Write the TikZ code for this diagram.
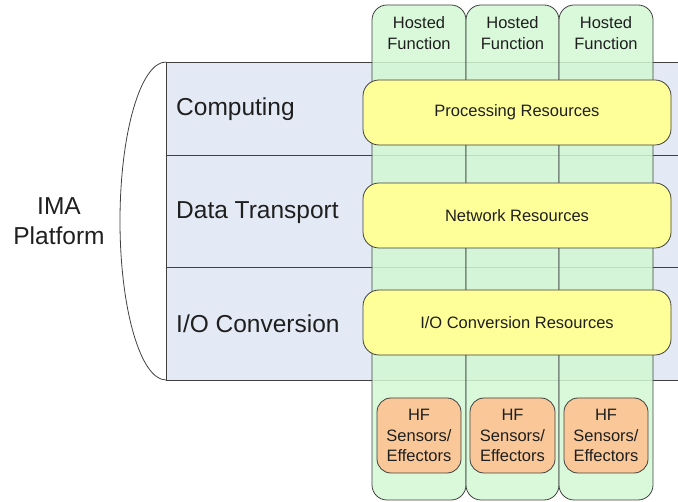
\documentclass[tikz,border=0pt]{standalone}
\usepackage{fontspec}
\setmainfont{Liberation Sans}
\begin{document}
\begin{tikzpicture}[x=1pt,y=-1pt,
  line/.style={draw=black!75,line width=0.8pt},
  band/.style={fill=bandblue},
  col/.style={line,fill=colgreen,fill opacity=0.85,rounded corners=15pt},
  res/.style={line,fill=resyellow,rounded corners=16pt},
  hf/.style={line,fill=hforange,rounded corners=14pt},
  small/.style={font=\fontsize{16.5}{20.5}\selectfont,text=black!88,align=center},
  big/.style={font=\fontsize{24.5}{30}\selectfont,text=black!88,align=center}]
\definecolor{bandblue}{RGB}{228,234,245}
\definecolor{colgreen}{RGB}{211,248,213}
\definecolor{resyellow}{RGB}{255,255,153}
\definecolor{hforange}{RGB}{250,200,152}
\useasboundingbox (0,0) rectangle (678,502);
% bands
\fill[band] (166,62) rectangle (678,380);
\draw[line] (678,62) -- (166,62) -- (166,380) -- (678,380);
\draw[line] (166,155) -- (678,155);
\draw[line] (166,267) -- (678,267);
% brace
\draw[line] (166,62) .. controls (140.6,62) and (120,133.2) .. (120,221)
  .. controls (120,308.8) and (140.6,380) .. (166,380);
% columns
\path[col] (372,5) rectangle (466,500);
\path[col] (466,5) rectangle (559,500);
\path[col] (559,5) rectangle (653,500);
% resources
\node[res,minimum width=308pt,minimum height=65pt] (proc) at (517,112.5) {};
\node[res,minimum width=308pt,minimum height=65pt] (net) at (517,215.5) {};
\node[res,minimum width=308pt,minimum height=65pt] (io) at (517,322.5) {};
\node[small] (proct) at (proc.center) {Processing Resources};
\node[small] (nett) at (net.center) {Network Resources};
\node[small] (iot) at (io.center) {I/O Conversion Resources};
% hf boxes
\node[hf,minimum width=84pt,minimum height=75pt] (hf1) at (419,435.5) {};
\node[hf,minimum width=85pt,minimum height=75pt] (hf2) at (512.5,435.5) {};
\node[hf,minimum width=84pt,minimum height=75pt] (hf3) at (606,435.5) {};
\node[small] (hf1t) at (hf1.center) {HF\\Sensors/\\Effectors};
\node[small] (hf2t) at (hf2.center) {HF\\Sensors/\\Effectors};
\node[small] (hf3t) at (hf3.center) {HF\\Sensors/\\Effectors};
% hosted function labels
\node[small] (h1) at (419,33) {Hosted\\Function};
\node[small] (h2) at (512.5,33) {Hosted\\Function};
\node[small] (h3) at (606,33) {Hosted\\Function};
% band labels
\node[big,anchor=west,inner sep=0pt] (comp) at (176,109) {Computing};
\node[big,anchor=west,inner sep=0pt] (data) at (176,213) {Data Transport};
\node[big,anchor=west,inner sep=0pt] (ioc) at (176,324) {I/O Conversion};
\node[big] (ima) at (59,221) {IMA\\Platform};
\end{tikzpicture}
\end{document}
